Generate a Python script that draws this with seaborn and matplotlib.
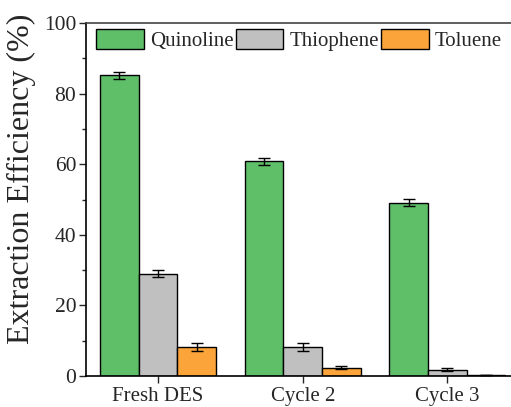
import matplotlib
matplotlib.use("Agg")
import matplotlib.pyplot as plt
from matplotlib.ticker import MultipleLocator
import seaborn as sns
import pandas as pd

categories = ["Fresh DES", "Cycle 2", "Cycle 3"]
series = ["Quinoline", "Thiophene", "Toluene"]
quinoline = [85.2, 60.8, 49.1]
thiophene = [29.0, 8.3, 1.8]
toluene = [8.3, 2.4, 0.3]
quinoline_err = [1.0, 0.9, 1.0]
thiophene_err = [1.0, 1.1, 0.4]
toluene_err = [1.1, 0.5, 0.1]
colors = ["#5fbf69", "#c0c0c0", "#fba43a"]

values = [quinoline, thiophene, toluene]
errors = [quinoline_err, thiophene_err, toluene_err]
df = pd.DataFrame({
    "Cycle": [c for _ in series for c in categories],
    "Compound": [s for s in series for _ in categories],
    "Efficiency": [v for vals in values for v in vals],
})

sns.set_theme(style="white")
plt.rcParams["font.family"] = ["Liberation Serif", "DejaVu Serif"]
plt.rcParams["axes.linewidth"] = 1.2

fig = plt.figure(figsize=(5.11, 4.07), dpi=100)
ax = fig.add_axes([86 / 511, 31 / 407, 425 / 511, 353 / 407])

sns.barplot(data=df, x="Cycle", y="Efficiency", hue="Compound",
            order=categories, hue_order=series, palette=colors,
            errorbar=None, width=0.8, saturation=1,
            edgecolor="black", linewidth=1.0, ax=ax)

# error bars placed at the centre of each drawn bar
for cont, errs in zip(ax.containers, errors):
    xs = [p.get_x() + p.get_width() / 2 for p in cont.patches]
    hs = [p.get_height() for p in cont.patches]
    ax.errorbar(xs, hs, yerr=errs, fmt="none", ecolor="black",
                elinewidth=1.0, capsize=4, capthick=1.0, zorder=5)

ax.set_xlim(-0.498, 2.44)
ax.set_ylim(0, 100)
ax.yaxis.set_major_locator(MultipleLocator(20))
ax.yaxis.set_minor_locator(MultipleLocator(10))
ax.tick_params(axis="y", which="major", direction="out", length=5, width=1, left=True,
               labelsize=15.5, pad=2)
ax.tick_params(axis="y", which="minor", direction="out", length=3, width=1, left=True)
ax.tick_params(axis="x", which="major", direction="out", length=5, width=1, bottom=True,
               labelsize=15, pad=3)
ax.set_xlabel("")
ax.set_ylabel("Extraction Efficiency (%)", fontsize=23)
ax.yaxis.set_label_coords(-0.117, 0.558)

for side in ["left", "bottom", "top"]:
    ax.spines[side].set_visible(True)
    ax.spines[side].set_color("black")
ax.spines["top"].set_color("#444444")
ax.spines["right"].set_visible(False)

leg = ax.legend(loc="upper left", bbox_to_anchor=(0.014, 0.994), ncol=3,
                frameon=False, fontsize=15, handlelength=2.3, handleheight=1.05,
                handletextpad=0.28, columnspacing=0.1, borderaxespad=0.0,
                borderpad=0.2)
for h in leg.legend_handles:
    h.set_edgecolor("black")

fig.savefig("out.png", dpi=100)
